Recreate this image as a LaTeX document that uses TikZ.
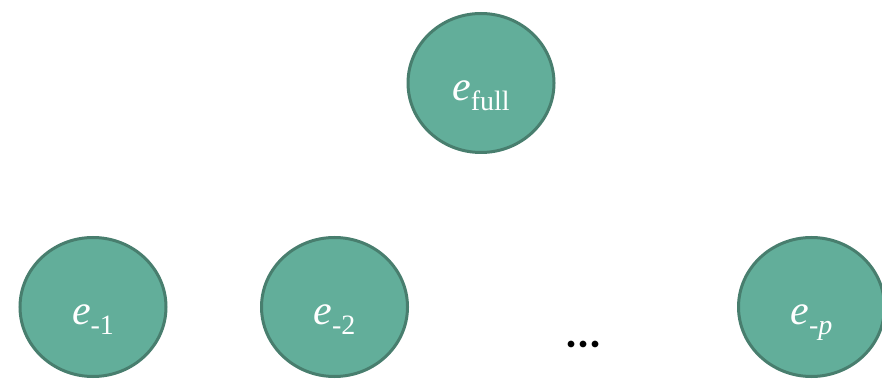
\documentclass[tikz,border=0pt]{standalone}
\usepackage{fontspec}
\setmainfont{Liberation Serif}
\newfontfamily\dotsfont{Carlito}
\usetikzlibrary{shapes.geometric}
\definecolor{nodefill}{RGB}{98,174,154}
\definecolor{nodeedge}{RGB}{72,126,110}
% italic e with a lowered, smaller subscript
\newcommand{\errlabel}[1]{{\itshape e}\raisebox{-10pt}{\fontsize{28}{30}\selectfont #1}}
\tikzset{
  errnode/.style={ellipse, draw=nodeedge, fill=nodefill, line width=3pt,
    minimum width=146pt, minimum height=139pt, inner sep=0pt},
  errtext/.style={anchor=base, inner sep=0pt, text=white,
    font=\fontsize{42}{44}\selectfont},
}
\begin{document}
\begin{tikzpicture}[x=1pt,y=1pt]
  \useasboundingbox (0,0) rectangle (882,380);
  % full model on top
  \node[errnode] (full) at (481,297) {};
  % reduced models below
  \node[errnode] (m1) at (93,73) {};
  \node[errnode] (m2) at (334.5,73) {};
  \node[errnode] (mp) at (811.5,73) {};
  % labels, set on a baseline a little below each centre
  \node[errtext] (tfull) at ([yshift=-17.5pt]full.center) {\errlabel{full}};
  \node[errtext] (tm1) at ([yshift=-17.5pt]m1.center) {\errlabel{-1}};
  \node[errtext] (tm2) at ([yshift=-17.5pt]m2.center) {\errlabel{-2}};
  \node[errtext] (tmp) at ([yshift=-17.5pt]mp.center) {\errlabel{-\textit{p}}};
  \node[anchor=base, inner sep=0pt, font=\dotsfont\bfseries\fontsize{45}{48}\selectfont] (dots) at (583.5,32.5) {...};
\end{tikzpicture}
\end{document}
